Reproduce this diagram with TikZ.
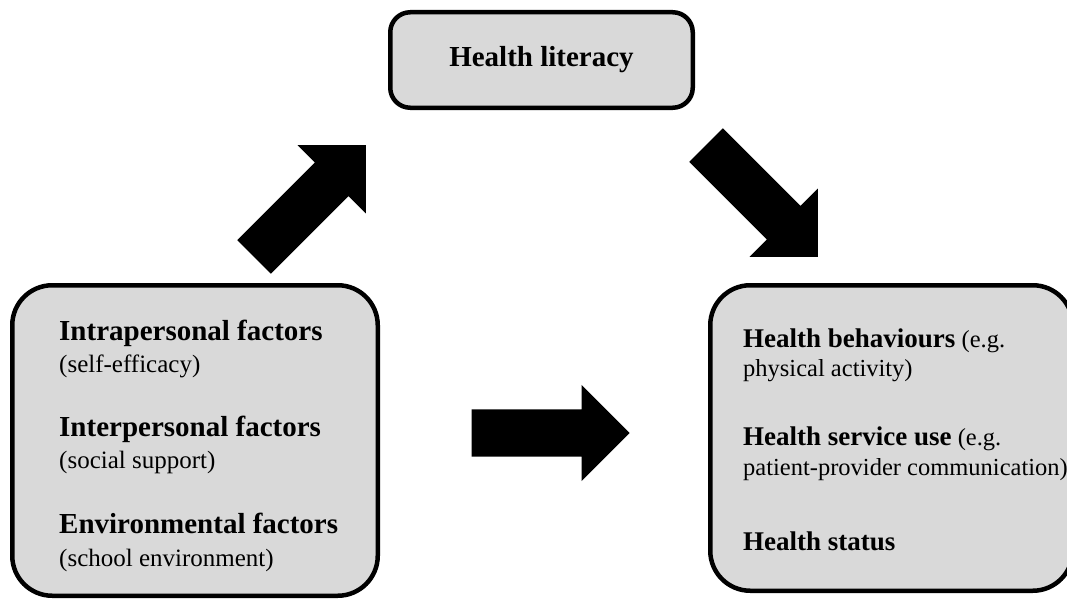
\documentclass[tikz,border=0pt]{standalone}
\usepackage{fontspec}
\setmainfont{Liberation Serif}
\usepackage{tikz}
\usetikzlibrary{positioning,shapes.arrows}
\definecolor{boxgray}{HTML}{D9D9D9}

\begin{document}
\begin{tikzpicture}[x=1pt,y=-1pt,
   factorbox/.style={draw,line width=4.5pt,fill=boxgray,rounded corners=#1},
   factorbox/.default=40pt,
   bigbold/.style={font=\fontsize{29}{34}\selectfont\bfseries,inner sep=0pt},
   smallnote/.style={font=\fontsize{25}{30}\selectfont,inner sep=0pt},
   outline/.style={font=\fontsize{24.5}{29}\selectfont,inner sep=0pt},
   bigarrow/.style={single arrow,fill=black,inner sep=0pt,
      minimum height=158pt,
      single arrow head extend=24.5pt,single arrow tip angle=90}]
   \useasboundingbox (0,0) rectangle (1067,602);

   % the three boxes
   \node[factorbox=20pt,minimum width=302.5pt,minimum height=95.5pt,
      font=\fontsize{29}{34}\selectfont\bfseries] (hl) at (541.5,60) {Health literacy};
   \node[factorbox,minimum width=365.5pt,minimum height=310.5pt] (factors) at (195,440.5) {};
   \node[factorbox,minimum width=362.5pt,minimum height=305.5pt] (outcomes) at (891.5,438) {};

   % left box text
   \node[bigbold,anchor=base west] (intra) at (59,340) {Intrapersonal factors};
   \node[smallnote,below=32pt of intra.base west,anchor=base west] (intranote) {(self-efficacy)};
   \node[bigbold,below=64pt of intranote.base west,anchor=base west] (inter) {Interpersonal factors};
   \node[smallnote,below=32pt of inter.base west,anchor=base west] (internote) {(social support)};
   \node[bigbold,below=65pt of internote.base west,anchor=base west] (env) {Environmental factors};
   \node[smallnote,below=33pt of env.base west,anchor=base west] (envnote) {(school environment)};

   % right box text
   \node[outline,anchor=base west] (behav) at (743,347)
      {{\fontsize{27}{32}\selectfont\bfseries Health behaviours} (e.g.};
   \node[outline,below=29pt of behav.base west,anchor=base west] (behavnote) {physical activity)};
   \node[outline,below=69pt of behavnote.base west,anchor=base west] (service)
      {{\fontsize{27}{32}\selectfont\bfseries Health service use} (e.g.};
   \node[outline,below=30pt of service.base west,anchor=base west] (servicenote) {patient-provider communication)};
   \node[outline,below=75pt of servicenote.base west,anchor=base west] (status)
      {{\fontsize{27}{32}\selectfont\bfseries Health status}};

   % block arrows
   \node[bigarrow,rotate=45,anchor=tip] (tohl) at (366,145) {\rule{0pt}{47pt}};
   \node[bigarrow,rotate=-45,anchor=tip] (fromhl) at (818,257) {\rule{0pt}{47pt}};
   \node[bigarrow,anchor=tip] (direct) at (630,433) {\rule{0pt}{47pt}};
\end{tikzpicture}
\end{document}
